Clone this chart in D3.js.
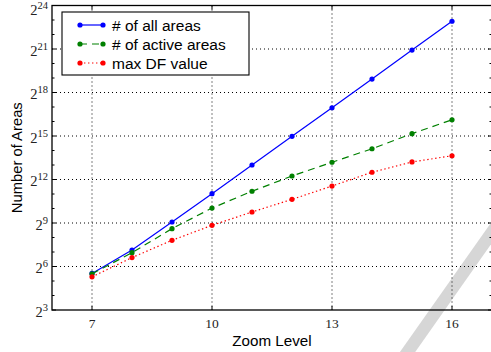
<!DOCTYPE html>
<html>
<head>
<meta charset="utf-8">
<script src="https://cdn.jsdelivr.net/npm/d3@7"></script>
<style>
  body { margin: 0; background: #fff; }
  svg { display: block; }
</style>
</head>
<body>
<div id="chart"></div>
<script>
const zoomLevels = [7, 8, 9, 10, 11, 12, 13, 14, 15, 16];
const allAreas = [46, 141, 537, 2077, 8192, 32300, 126500, 499000, 1990000, 7900000];
const activeAreas = [45, 124, 391, 1045, 2336, 4840, 9340, 17800, 36600, 71200];
const maxDF = [39, 98, 224, 458, 867, 1585, 2998, 5790, 9470, 12760];
const xTicks = [7, 10, 13, 16];
const yTickExps = [3, 6, 9, 12, 15, 18, 21, 24];

const seriesNames = ['# of all areas', '# of active areas', 'max DF value'];
const seriesColors = ['#0000ff', '#008000', '#ff0000'];
const seriesDash = [null, '7,5', '1.4,2.6'];

const width = 491, height = 352;
const mLeft = 52, mRight = 492, mTop = 5.5, mBottom = 310;

const svg = d3.select('#chart').append('svg')
  .attr('width', width)
  .attr('height', height);

// scan mark on the original
svg.append('line')
  .attr('x1', 497).attr('y1', 225)
  .attr('x2', 397).attr('y2', 367)
  .attr('stroke', '#d6d6d6')
  .attr('stroke-width', 12.5);

const x = d3.scaleLinear().domain([6, 17]).range([mLeft, mRight]);
const y = d3.scaleLog().base(2).domain([Math.pow(2, 3), Math.pow(2, 24)]).range([mBottom, mTop]);

// grid
const grid = svg.append('g')
  .attr('stroke', '#000')
  .attr('stroke-width', 1)
  .attr('stroke-dasharray', '1,3');
grid.selectAll('.gx').data(xTicks).join('line')
  .attr('x1', d => x(d)).attr('x2', d => x(d))
  .attr('y1', mTop).attr('y2', mBottom);
grid.selectAll('.gy').data(yTickExps.slice(1, -1)).join('line')
  .attr('y1', d => y(Math.pow(2, d))).attr('y2', d => y(Math.pow(2, d)))
  .attr('x1', mLeft).attr('x2', mRight);

// inward ticks on all four sides
const ticks = svg.append('g').attr('stroke', '#000').attr('stroke-width', 1);
const minorExps = d3.range(3, 25);
ticks.selectAll('.yl').data(minorExps).join('line')
  .attr('x1', mLeft).attr('x2', d => mLeft + (d % 3 === 0 ? 4 : 2.5))
  .attr('y1', d => y(Math.pow(2, d))).attr('y2', d => y(Math.pow(2, d)));
ticks.selectAll('.yr').data(minorExps).join('line')
  .attr('x1', mRight).attr('x2', d => mRight - (d % 3 === 0 ? 4 : 2.5))
  .attr('y1', d => y(Math.pow(2, d))).attr('y2', d => y(Math.pow(2, d)));
ticks.selectAll('.xb').data(xTicks).join('line')
  .attr('x1', d => x(d)).attr('x2', d => x(d))
  .attr('y1', mBottom).attr('y2', mBottom - 4);
ticks.selectAll('.xt').data(xTicks).join('line')
  .attr('x1', d => x(d)).attr('x2', d => x(d))
  .attr('y1', mTop).attr('y2', mTop + 4);

// frame
svg.append('rect')
  .attr('x', mLeft).attr('y', mTop)
  .attr('width', mRight - mLeft).attr('height', mBottom - mTop)
  .attr('fill', 'none').attr('stroke', '#000').attr('stroke-width', 1.3);

// tick labels (top one nudged down so it stays inside the page)
const yLab = svg.append('g')
  .attr('font-family', '"Liberation Serif", serif')
  .attr('fill', '#222');
yLab.selectAll('text').data(yTickExps).join('text')
  .attr('x', 48)
  .attr('y', d => Math.max(y(Math.pow(2, d)) + 6.5, 15))
  .attr('text-anchor', 'end')
  .attr('font-size', 14.5)
  .each(function (d) {
    const t = d3.select(this);
    t.append('tspan').text('2');
    t.append('tspan').attr('dy', -6).attr('font-size', 10.5).text(d);
  });

svg.append('g')
  .attr('font-family', '"Liberation Serif", serif')
  .attr('font-size', 13.5)
  .attr('fill', '#222')
  .selectAll('text').data(xTicks).join('text')
  .attr('x', d => x(d))
  .attr('y', 328)
  .attr('text-anchor', 'middle')
  .text(d => d);

// axis titles
svg.append('text')
  .attr('x', (mLeft + mRight) / 2).attr('y', 346)
  .attr('text-anchor', 'middle')
  .attr('font-family', '"Liberation Sans", Arial, sans-serif')
  .attr('font-size', 15.2)
  .text('Zoom Level');
svg.append('text')
  .attr('transform', `translate(21.5,${(mTop + mBottom) / 2}) rotate(-90)`)
  .attr('text-anchor', 'middle')
  .attr('font-family', '"Liberation Sans", Arial, sans-serif')
  .attr('font-size', 14.8)
  .text('Number of Areas');

// series
const series = [allAreas, activeAreas, maxDF];
const line = d3.line().x((d, i) => x(zoomLevels[i])).y(d => y(d));
series.forEach((vals, k) => {
  svg.append('path')
    .datum(vals)
    .attr('d', line)
    .attr('fill', 'none')
    .attr('stroke', seriesColors[k])
    .attr('stroke-width', 1.2)
    .attr('stroke-dasharray', seriesDash[k]);
  svg.append('g').selectAll('circle').data(vals).join('circle')
    .attr('cx', (d, i) => x(zoomLevels[i]))
    .attr('cy', d => y(d))
    .attr('r', 2.6)
    .attr('fill', seriesColors[k]);
});

// legend
const lg = svg.append('g');
lg.append('rect')
  .attr('x', 62).attr('y', 12)
  .attr('width', 187).attr('height', 63)
  .attr('fill', '#fff').attr('stroke', '#000').attr('stroke-width', 1.1);
const rowY = [25, 44, 63];
seriesNames.forEach((name, k) => {
  lg.append('line')
    .attr('x1', 80).attr('x2', 103)
    .attr('y1', rowY[k]).attr('y2', rowY[k])
    .attr('stroke', seriesColors[k])
    .attr('stroke-width', 1.2)
    .attr('stroke-dasharray', seriesDash[k]);
  [80, 103].forEach(cx => lg.append('circle')
    .attr('cx', cx).attr('cy', rowY[k]).attr('r', 2.6)
    .attr('fill', seriesColors[k]));
  lg.append('text')
    .attr('x', 112).attr('y', rowY[k] + 5.5)
    .attr('font-family', '"Liberation Sans", Arial, sans-serif')
    .attr('font-size', 15.5)
    .text(name);
});
</script>
</body>
</html>
